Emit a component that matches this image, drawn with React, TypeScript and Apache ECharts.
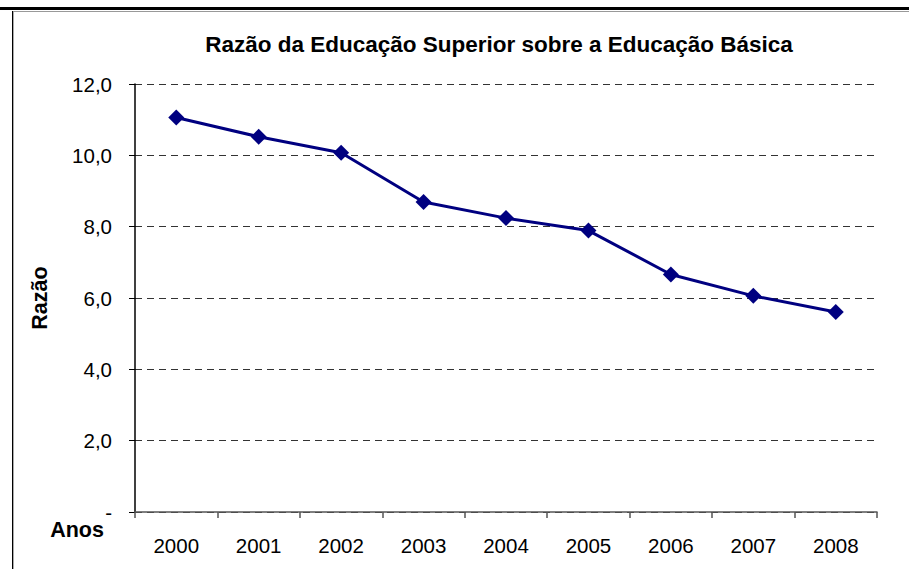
import React, { useEffect, useRef } from "react";
import * as echarts from "echarts";

const title = "Razão da Educação Superior sobre a Educação Básica";
const yAxisTitle = "Razão";
const xAxisTitle = "Anos";
const years = ["2000", "2001", "2002", "2003", "2004", "2005", "2006", "2007", "2008"];
const ratios = [11.06, 10.52, 10.07, 8.69, 8.24, 7.89, 6.66, 6.06, 5.61];
const yMin = 0;
const yMax = 12;
const yStep = 2;

const FONT = "Liberation Sans";

export default function App() {
  const ref = useRef<HTMLDivElement>(null);
  useEffect(() => {
    if (!ref.current) return;
    const chart = echarts.init(ref.current, null, { renderer: "svg" });
    chart.setOption({
      animation: false,
      backgroundColor: "#ffffff",
      grid: { left: 135, right: 32, top: 84, bottom: 57 },
      xAxis: {
        type: "category",
        data: years,
        boundaryGap: true,
        axisLine: { show: true, lineStyle: { color: "#555555", width: 1.5 } },
        axisTick: { show: true, length: 6, inside: false, lineStyle: { color: "#555555", width: 1.5 } },
        axisLabel: { color: "#000", fontSize: 20.5, fontFamily: FONT, margin: 23 },
        splitLine: { show: false },
      },
      yAxis: {
        type: "value",
        min: yMin,
        max: yMax,
        interval: yStep,
        axisLine: { show: true, lineStyle: { color: "#000", width: 1.5 } },
        axisTick: { show: true, length: 6, inside: false, lineStyle: { color: "#000", width: 1 } },
        axisLabel: {
          color: "#000",
          fontSize: 20.5,
          fontFamily: FONT,
          margin: 23,
          formatter: (v: number) => (v === 0 ? "-" : v.toFixed(1).replace(".", ",")),
        },
        splitLine: { show: true, lineStyle: { color: "#333333", type: [7, 5], width: 1.2 } },
      },
      series: [
        {
          type: "line",
          data: ratios,
          symbol: "diamond",
          symbolSize: 16,
          itemStyle: { color: "#000080" },
          lineStyle: { color: "#000080", width: 3 },
          z: 5,
        },
      ],
      graphic: [
        { type: "rect", shape: { x: 0, y: 7, width: 909, height: 3 }, style: { fill: "#000" } },
        { type: "rect", shape: { x: 12, y: 11, width: 897, height: 1 }, style: { fill: "#999999" } },
        { type: "rect", shape: { x: 12, y: 11, width: 1, height: 558 }, style: { fill: "#000" } },
        { type: "rect", shape: { x: 13, y: 12, width: 1, height: 557 }, style: { fill: "#aaaaaa" } },
        {
          type: "text",
          x: 499,
          y: 44,
          style: {
            text: title,
            fontFamily: FONT,
            fontWeight: "bold",
            fontSize: 22.5,
            fill: "#000",
            align: "center",
            verticalAlign: "middle",
          },
        },
        {
          type: "text",
          x: 40,
          y: 298,
          rotation: Math.PI / 2,
          style: {
            text: yAxisTitle,
            fontFamily: FONT,
            fontWeight: "bold",
            fontSize: 21.5,
            fill: "#000",
            align: "center",
            verticalAlign: "middle",
          },
        },
        {
          type: "text",
          x: 77,
          y: 530,
          style: {
            text: xAxisTitle,
            fontFamily: FONT,
            fontWeight: "bold",
            fontSize: 21.5,
            fill: "#000",
            align: "center",
            verticalAlign: "middle",
          },
        },
      ],
    });
    return () => chart.dispose();
  }, []);
  return (
    <div
      ref={ref}
      style={{ position: "fixed", left: 0, top: 0, width: 909, height: 569, background: "#fff" }}
    />
  );
}
